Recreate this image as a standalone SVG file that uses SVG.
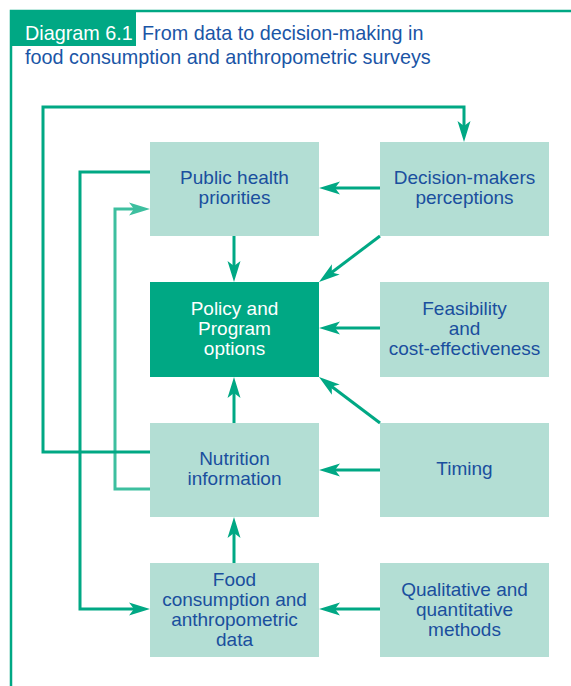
<svg xmlns="http://www.w3.org/2000/svg" width="571" height="686" viewBox="0 0 571 686">
<defs>
<style>
.frame{stroke:#00a884;stroke-width:2.5;fill:none}
.box{fill:#b3ded4}
.dark{fill:#00a884}
.lbl{font-family:"Liberation Sans",Arial,sans-serif;font-size:19px;fill:#1a4f9e;text-anchor:middle}
.wlbl{font-family:"Liberation Sans",Arial,sans-serif;font-size:19px;fill:#ffffff;text-anchor:middle}
.title{font-family:"Liberation Sans",Arial,sans-serif;font-size:19.8px;fill:#1a55a6}
.conn{stroke:#00a884;stroke-width:3;fill:none;marker-end:url(#ah)}
.connl{stroke:#3dbf9f;stroke-width:3;fill:none;marker-end:url(#ahl)}
</style>
<marker id="ah" markerUnits="userSpaceOnUse" markerWidth="24" markerHeight="16" viewBox="0 -8 24 16" refX="11" refY="0" orient="auto">
<path d="M0,-6.5 L21,0 L0,6.5 L5,0 Z" fill="#00a884"/>
</marker>
<marker id="ahl" markerUnits="userSpaceOnUse" markerWidth="24" markerHeight="16" viewBox="0 -8 24 16" refX="11" refY="0" orient="auto">
<path d="M0,-6.5 L21,0 L0,6.5 L5,0 Z" fill="#3dbf9f"/>
</marker>
</defs>
<rect width="571" height="686" fill="#ffffff"/>
<g id="frame">
<path class="frame" d="M11,686 L11,11 L571,11"/>
<rect x="12" y="12" width="124" height="34" fill="#00a884"/>
<text x="25" y="40" class="title" style="fill:#ffffff">Diagram 6.1</text>
<text x="142" y="40" class="title">From data to decision-making in</text>
<text x="25" y="64" class="title">food consumption and anthropometric surveys</text>
</g>
<g id="connectors">
<polyline class="connl" points="150,489 115,489 115,209 140,209"/>
<polyline class="conn" points="150,172 80,172 80,609 140,609"/>
<polyline class="conn" points="150,452 43,452 43,107 464,107 464,132"/>
<line class="conn" x1="380" y1="188" x2="329" y2="188"/>
<line class="conn" x1="380" y1="236" x2="327" y2="276"/>
<line class="conn" x1="234" y1="236" x2="234" y2="272"/>
<line class="conn" x1="380" y1="328" x2="329" y2="328"/>
<line class="conn" x1="380" y1="423" x2="327" y2="383"/>
<line class="conn" x1="234" y1="423" x2="234" y2="387"/>
<line class="conn" x1="380" y1="470" x2="329" y2="470"/>
<line class="conn" x1="234" y1="563" x2="234" y2="527"/>
<line class="conn" x1="380" y1="609" x2="329" y2="609"/>
</g>
<g id="public-health">
<rect class="box" x="150" y="142" width="169" height="94"/>
<text class="lbl" x="234.5" y="184">Public health</text>
<text class="lbl" x="234.5" y="204">priorities</text>
</g>
<g id="decision-makers">
<rect class="box" x="380" y="142" width="169" height="94"/>
<text class="lbl" x="464.5" y="184">Decision-makers</text>
<text class="lbl" x="464.5" y="204">perceptions</text>
</g>
<g id="policy">
<rect class="dark" x="150" y="282" width="169" height="95"/>
<text class="wlbl" x="234.5" y="315">Policy and</text>
<text class="wlbl" x="234.5" y="335">Program</text>
<text class="wlbl" x="234.5" y="355">options</text>
</g>
<g id="feasibility">
<rect class="box" x="380" y="282" width="169" height="95"/>
<text class="lbl" x="464.5" y="315">Feasibility</text>
<text class="lbl" x="464.5" y="335">and</text>
<text class="lbl" x="464.5" y="355">cost-effectiveness</text>
</g>
<g id="nutrition">
<rect class="box" x="150" y="423" width="169" height="94"/>
<text class="lbl" x="234.5" y="465">Nutrition</text>
<text class="lbl" x="234.5" y="485">information</text>
</g>
<g id="timing">
<rect class="box" x="380" y="423" width="169" height="94"/>
<text class="lbl" x="464.5" y="475">Timing</text>
</g>
<g id="food">
<rect class="box" x="150" y="563" width="169" height="94"/>
<text class="lbl" x="234.5" y="585.5">Food</text>
<text class="lbl" x="234.5" y="605.5">consumption and</text>
<text class="lbl" x="234.5" y="625.5">anthropometric</text>
<text class="lbl" x="234.5" y="645.5">data</text>
</g>
<g id="qualitative">
<rect class="box" x="380" y="563" width="169" height="94"/>
<text class="lbl" x="464.5" y="596">Qualitative and</text>
<text class="lbl" x="464.5" y="616">quantitative</text>
<text class="lbl" x="464.5" y="636">methods</text>
</g>
</svg>
